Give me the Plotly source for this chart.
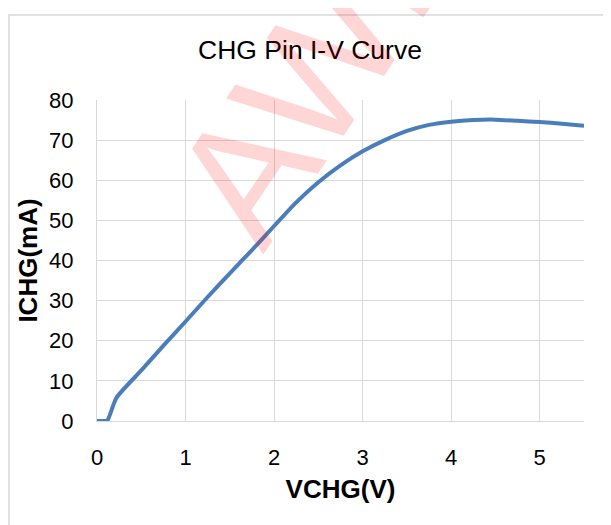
import plotly.graph_objects as go

# VCHG (V) vs ICHG (mA)
vchg = [0, 0.05, 0.1, 0.12, 0.22, 0.5, 0.75, 1.0, 1.25, 1.5, 1.75, 2.0, 2.25, 2.5,
        2.75, 3.0, 3.25, 3.5, 3.75, 4.0, 4.25, 4.5, 4.75, 5.0, 5.25, 5.5]
ichg = [0, 0, 0, 0.2, 5.8, 12.6, 18.8, 24.8, 30.9, 36.8, 42.6, 48.6, 54.5, 59.5,
        63.7, 67.2, 70.0, 72.3, 73.8, 74.6, 75.0, 75.1, 74.8, 74.5, 74.1, 73.6]
xticks = [0, 1, 2, 3, 4, 5]
yticks = [0, 10, 20, 30, 40, 50, 60, 70, 80]

# the page body has an 8px margin, so the figure is shrunk and shifted by it
OFF = 8
W, H = 611 - OFF, 525 - OFF
L, T = 97 - OFF, 100 - OFF
R, B = W - (584 - OFF), H - (421 - OFF)
pw, ph = W - L - R, H - T - B

def px(xp):  # page pixel -> paper x
    return (xp - OFF - L) / pw

def py(yp):  # page pixel -> paper y
    return (H - B - (yp - OFF)) / ph

fig = go.Figure()
fig.add_trace(go.Scatter(x=vchg, y=ichg, mode="lines",
                         line=dict(color="#4A7EBB", width=4, shape="spline", smoothing=0.6),
                         hoverinfo="skip"))

grid = "#D9D9D9"
fnt = "Liberation Sans, Arial, sans-serif"
fig.update_layout(
    width=W, height=H,
    margin=dict(l=L, r=R, t=T, b=B, autoexpand=False),
    paper_bgcolor="white", plot_bgcolor="white",
    showlegend=False,
    font=dict(family=fnt, color="black"),
    title=dict(text="CHG Pin I-V Curve", x=(310 - OFF) / W, xanchor="center",
               y=1 - (50 - OFF) / H, yanchor="middle", font=dict(size=26.5, family=fnt)),
)
fig.update_xaxes(range=[0, 5.5], tickvals=xticks, showgrid=True, gridcolor=grid, gridwidth=1.3,
                 showline=True, linecolor=grid, linewidth=1.3, zeroline=False, automargin=False,
                 tickfont=dict(size=22), ticklabelstandoff=16,
                 title=dict(text="<b>VCHG(V)</b>", font=dict(size=26), standoff=11))
fig.update_yaxes(range=[0, 80], tickvals=yticks, showgrid=True, gridcolor=grid, gridwidth=1.3,
                 showline=True, linecolor=grid, linewidth=1.3, zeroline=False, automargin=False,
                 tickfont=dict(size=22), ticklabelstandoff=18,
                 title=dict(text="<b>ICHG(mA)</b>", font=dict(size=26), standoff=3))

# chart border
fig.add_shape(type="rect", xref="paper", yref="paper",
              x0=px(9), y0=py(540), x1=px(640), y1=py(15),
              line=dict(color=grid, width=1.5), layer="below")

# watermark
fig.add_annotation(text="AWINIC", xref="paper", yref="paper", x=px(385), y=py(-33),
                   xanchor="center", yanchor="middle", showarrow=False, textangle=-56,
                   font=dict(size=172, family=fnt, color="rgba(255,0,0,0.16)"))

fig.write_html("out.html")
